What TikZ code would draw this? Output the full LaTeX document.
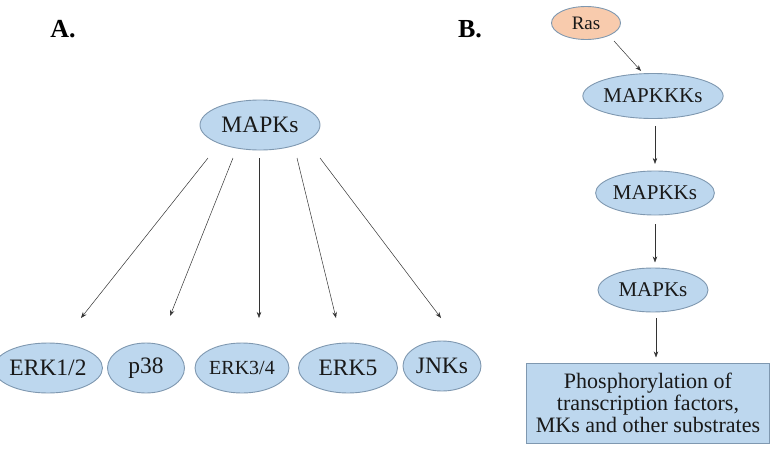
\documentclass[tikz,border=0pt]{standalone}
\usepackage{fontspec}
\setmainfont{Liberation Serif}
\usetikzlibrary{shapes.geometric,arrows.meta}
\definecolor{blobfill}{HTML}{BDD7EE}
\definecolor{edgecol}{HTML}{7F98B0}
\definecolor{rasfill}{HTML}{F8CBAD}
\begin{document}
\begin{tikzpicture}[x=1pt,y=-1pt,
  oval/.style={ellipse,draw=edgecol,fill=blobfill,line width=0.9pt,inner sep=0pt,
    font=\fontsize{21}{23}\selectfont,text=black!90},
  big/.style={font=\fontsize{23.5}{25}\selectfont},
  arr/.style={-{Stealth[length=6pt,width=4.5pt]},line width=0.5pt,draw=black!80},
  panel/.style={font=\fontsize{26}{28}\selectfont\bfseries,anchor=base}]
\useasboundingbox (0,0) rectangle (777,453);

% Panel labels
\node[panel] (la) at (63,37) {A.};
\node[panel] (lb) at (470,37) {B.};

% Panel A
\node[oval,big,minimum width=120pt,minimum height=50pt] (mapk) at (260,125) {MAPKs};
\node[oval,big,minimum width=93pt,minimum height=50pt] (erk12) at (48,368) {ERK1/2};
\node[oval,big,minimum width=77pt,minimum height=50pt] (p38) at (146,368) {p38};
\node[oval,font=\fontsize{20}{22}\selectfont,minimum width=94pt,minimum height=50pt] (erk34) at (242,368) {ERK3/4};
\node[oval,big,minimum width=99pt,minimum height=50pt] (erk5) at (348,368) {ERK5};
\node[oval,big,minimum width=78pt,minimum height=50pt] (jnk) at (442,366) {JNKs};

\coordinate (s1) at (208,158);
\coordinate (s2) at (233,158);
\coordinate (s3) at (259,158);
\coordinate (s4) at (297,158);
\coordinate (s5) at (320,158);
\coordinate (e1) at (81,318);
\coordinate (e2) at (170,316);
\coordinate (e3) at (259,318);
\coordinate (e4) at (336,318);
\coordinate (e5) at (441,318);
\draw[arr] (s1) -- (e1);
\draw[arr] (s2) -- (e2);
\draw[arr] (s3) -- (e3);
\draw[arr] (s4) -- (e4);
\draw[arr] (s5) -- (e5);

% Panel B
\node[oval,fill=rasfill,minimum width=69pt,minimum height=33pt,font=\fontsize{19}{21}\selectfont] (ras) at (586,23) {Ras};
\node[oval,minimum width=110pt,minimum height=45pt] (mkkk) at (653,96) {MAPKKKs};
\node[oval,minimum width=110pt,minimum height=44pt] (mkk) at (655,193) {MAPKKs};
\node[oval,minimum width=110pt,minimum height=44pt] (mk) at (653,290) {MAPKs};
\node[draw=edgecol,fill=blobfill,line width=0.9pt,minimum width=243pt,minimum height=80pt,
  inner sep=1pt,align=center,font=\fontsize{22}{22}\selectfont,text=black!90] (phos) at (648,403)
  {Phosphorylation of\\transcription factors,\\MKs and other substrates};

\draw[arr] (ras) ++(28,18) coordinate (r1) -- (641,71) coordinate (r2);
\draw[arr] (mkkk.south) ++(2,7) -- ++(0,38);
\draw[arr] (mkk.south) ++(0,9) -- ++(0,38);
\draw[arr] (mk.south) ++(3,6) -- ++(0,39);
\end{tikzpicture}
\end{document}
